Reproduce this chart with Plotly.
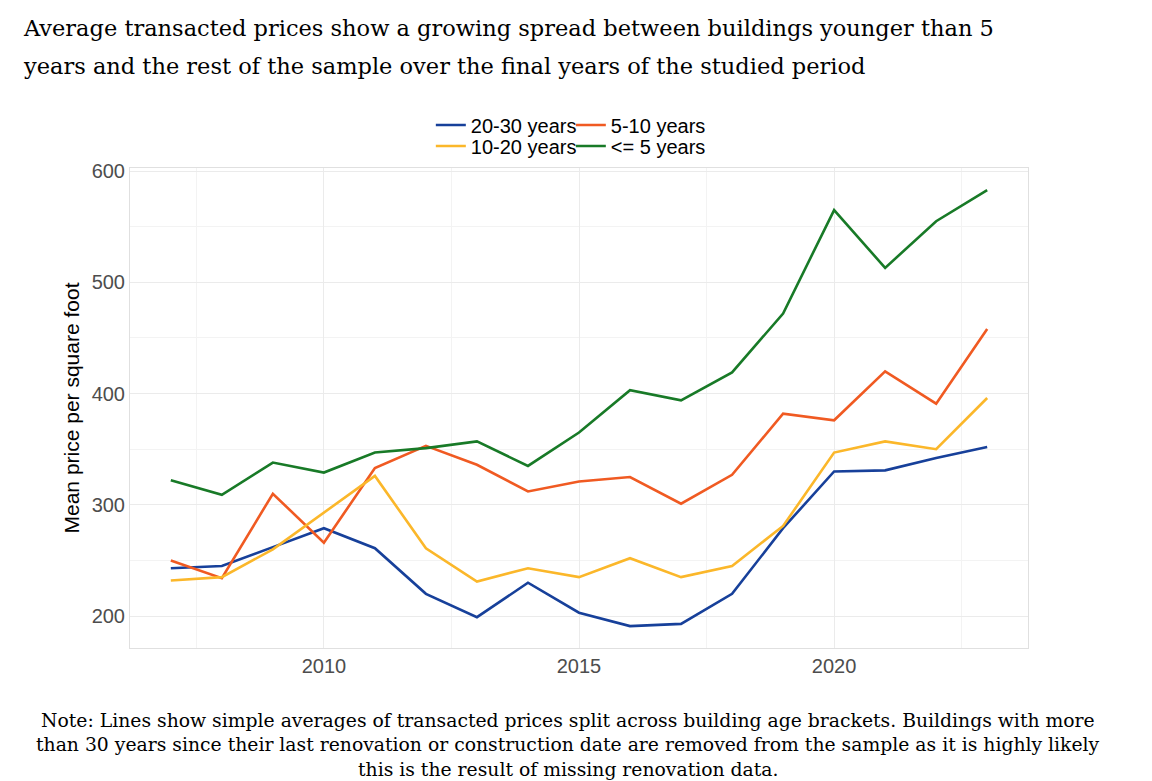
import plotly.graph_objects as go

years = list(range(2007, 2024))

# mean price per square foot by building age bracket
age_20_30 = [243, 245, 262, 279, 261, 220, 199, 230, 203, 191, 193, 220, 279, 330, 331, 342, 352]
age_10_20 = [232, 235, 260, 293, 326, 261, 231, 243, 235, 252, 235, 245, 281, 347, 357, 350, 396]
age_5_10 = [250, 234, 310, 266, 333, 353, 336, 312, 321, 325, 301, 327, 382, 376, 420, 391, 458]
age_0_5 = [322, 309, 338, 329, 347, 351, 357, 335, 365, 403, 394, 419, 472, 565, 513, 555, 583]

series = [
    ("20-30 years", age_20_30, "#17409a", "legend"),
    ("5-10 years", age_5_10, "#f05a22", "legend"),
    ("10-20 years", age_10_20, "#fbb72a", "legend2"),
    ("<= 5 years", age_0_5, "#187a27", "legend2"),
]

title_lines = [
    "Average transacted prices show a growing spread between buildings younger than 5",
    "years and the rest of the sample over the final years of the studied period",
]
note_lines = [
    "Note: Lines show simple averages of transacted prices split across building age brackets. Buildings with more",
    "than 30 years since their last renovation or construction date are removed from the sample as it is highly likely",
    "this is the result of missing renovation data.",
]

fig = go.Figure()
for name, vals, color, leg in series:
    fig.add_trace(
        go.Scatter(
            x=years,
            y=vals,
            name=name,
            mode="lines",
            line=dict(color=color, width=2.6),
            legend=leg,
        )
    )

sans = "Liberation Sans, Arial, sans-serif"
serif = "DejaVu Serif, serif"
grid = "#ebebeb"

fig.update_xaxes(
    range=[2006.2, 2023.8],
    dtick=5,
    tick0=2010,
    showgrid=True,
    gridcolor=grid,
    gridwidth=1,
    minor=dict(dtick=2.5, tick0=2007.5, showgrid=True, gridcolor="#f3f3f3", gridwidth=1),
    zeroline=False,
    showline=True,
    mirror=True,
    linecolor="#e0e0e0",
    linewidth=1,
    ticks="",
    tickfont=dict(family=sans, size=20, color="#4d4d4d"),
)
fig.update_yaxes(
    range=[171.3, 602.8],
    dtick=100,
    showgrid=True,
    gridcolor=grid,
    gridwidth=1,
    minor=dict(dtick=50, showgrid=True, gridcolor="#f3f3f3", gridwidth=1),
    zeroline=False,
    showline=True,
    mirror=True,
    linecolor="#e0e0e0",
    linewidth=1,
    ticks="",
    tickfont=dict(family=sans, size=20, color="#4d4d4d"),
    title=dict(text="Mean price per square foot", font=dict(family=sans, size=21, color="black"), standoff=6),
)

legend_style = dict(
    orientation="h",
    xanchor="left",
    yanchor="middle",
    font=dict(family=sans, size=20, color="black"),
    bgcolor="rgba(0,0,0,0)",
    itemwidth=30,
    entrywidth=95,
)
# the page puts the figure 8px in from the top-left corner, so margins are shifted
fig.update_layout(
    width=1152,
    height=781,
    margin=dict(l=122, r=132, t=160, b=141),
    plot_bgcolor="white",
    paper_bgcolor="white",
    showlegend=True,
    legend=dict(x=0.335, y=1.0896, **legend_style),
    legend2=dict(x=0.335, y=1.0458, **legend_style),
)

for i, line in enumerate(title_lines):
    fig.add_annotation(
        text=line, xref="paper", yref="paper", x=-0.121, y=1.2917 - i * 0.0792,
        xanchor="left", yanchor="middle", showarrow=False,
        font=dict(family=serif, size=22.5, color="black"),
    )
for i, line in enumerate(note_lines):
    fig.add_annotation(
        text=line, xref="paper", yref="paper", x=0.4878, y=-0.15 - i * 0.052,
        xanchor="center", yanchor="middle", showarrow=False,
        font=dict(family=serif, size=18.8, color="black"),
    )

fig.write_html("out.html")
